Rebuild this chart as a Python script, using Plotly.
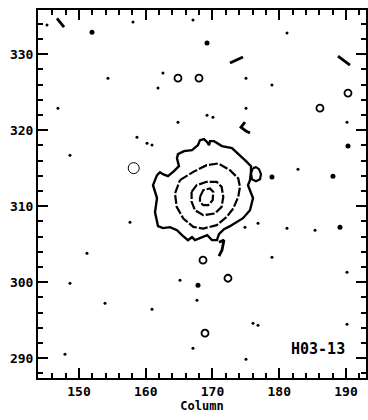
import plotly.graph_objects as go

# ---- data (column, row) ----
outer_col = [161.69, 162.14, 162.58, 163.33, 164.23, 164.98, 164.68, 164.83, 165.73, 166.93, 167.83, 168.13,
             168.73, 169.21, 169.48, 169.63, 170.23, 171.42, 172.92, 174.12, 175.02, 175.77, 175.77, 175.62,
             175.32, 176.07, 175.62, 174.57, 174.12, 172.62, 171.72, 170.97, 170.67, 169.93, 169.21, 168.13,
             167.38, 166.93, 166.33, 165.43, 164.68, 163.63, 162.58, 161.84, 161.69, 161.39, 161.69, 161.09]
outer_row = [314.08, 314.47, 314.21, 313.95, 314.61, 315.26, 316.31, 316.84, 317.24, 317.37, 318.03, 318.68,
             318.82, 318.42, 318.03, 318.55, 318.55, 317.90, 317.63, 316.71, 315.92, 315.26, 314.47, 313.42,
             312.76, 311.05, 309.47, 308.42, 308.16, 307.37, 306.97, 306.32, 305.53, 305.53, 306.18, 305.79,
             305.53, 305.92, 305.53, 306.18, 306.84, 307.24, 307.11, 307.37, 307.90, 309.21, 311.05, 312.76]

loop_col = [176.07, 175.77, 175.92, 176.52, 177.12, 177.27, 176.97, 176.52]
loop_row = [315.00, 314.34, 313.55, 313.29, 313.55, 314.21, 314.87, 315.13]

c2_col = [165.13, 167.12, 169.13, 170.87, 172.62, 173.86, 174.12, 173.86, 173.12, 172.13, 170.63, 168.62,
          167.12, 165.63, 164.64, 164.38]
c2_row = [313.42, 314.51, 315.39, 315.62, 314.74, 313.65, 312.54, 311.22, 309.70, 308.59, 307.50, 307.06,
          307.27, 308.38, 309.91, 311.67]

c3_col = [166.87, 167.63, 169.13, 170.62, 171.37, 171.62, 171.37, 170.37, 168.62, 167.38, 166.88]
c3_row = [311.88, 312.76, 313.20, 313.20, 312.54, 311.22, 309.91, 309.04, 308.82, 309.47, 310.57]

c4_col = [168.13, 168.62, 169.63, 170.12, 170.03, 169.37, 168.62, 168.13]
c4_row = [311.22, 312.11, 312.33, 311.88, 310.79, 310.13, 310.13, 310.57]

# small noise features
dot_col = [145.21, 158.09, 167.08, 181.16, 154.34, 162.58, 161.84, 175.02, 178.91, 146.85, 175.02, 164.83,
           169.18, 170.07, 190.15, 160.19, 160.94, 158.69, 148.65, 182.81, 157.64, 174.87, 176.82, 181.16,
           185.36, 151.20, 178.91, 190.15, 148.65, 165.13, 153.90, 160.94, 167.68, 176.07, 176.82, 190.15,
           167.08, 147.90, 175.02]
dot_row = [333.82, 334.21, 334.47, 332.76, 326.84, 327.50, 325.53, 326.84, 325.92, 322.89, 322.89, 321.05,
           321.97, 321.71, 321.05, 318.29, 318.03, 319.08, 316.71, 314.87, 307.89, 307.24, 307.76, 307.11,
           306.84, 303.82, 303.29, 301.32, 299.87, 300.26, 297.24, 296.45, 297.63, 294.61, 294.34, 294.47,
           291.32, 290.53, 289.87]

blob_col = [151.95, 169.18, 178.91, 188.05, 190.30, 189.10, 167.83]
blob_row = [332.89, 331.45, 313.82, 313.95, 317.90, 307.24, 299.60]

ring_col = [164.83, 167.98, 190.30, 186.10, 168.58, 172.32, 168.88]
ring_row = [326.84, 326.84, 324.87, 322.89, 302.90, 300.52, 293.29]

big_ring_col = [158.2]
big_ring_row = [315.0]

streaks = [
    ([146.70, 147.76], [334.70, 333.55]),
    ([172.62, 174.57], [328.82, 329.61]),
    ([188.80, 190.60], [329.74, 328.55]),
    ([174.87, 174.27, 175.02, 175.62], [321.05, 320.39, 319.87, 319.61]),
    ([170.97, 171.72, 171.42, 170.97], [305.26, 305.53, 304.21, 303.42]),
]

x_range = [143.86, 193.0]
y_range = [287.4, 335.8]
x_major = [150, 160, 170, 180, 190]
y_major = [290, 300, 310, 320, 330]
minor_step = 2
label_text = "H03-13"
label_pos = (185.8, 291.2)


def closed(a):
    return a + a[:1]


fig = go.Figure()

fig.add_trace(go.Scatter(x=closed(outer_col), y=closed(outer_row), mode="lines",
                         line=dict(color="black", width=2.4), hoverinfo="skip"))
fig.add_trace(go.Scatter(x=closed(loop_col), y=closed(loop_row), mode="lines",
                         line=dict(color="black", width=2.2), hoverinfo="skip"))
for cx, cy in [(c2_col, c2_row), (c3_col, c3_row), (c4_col, c4_row)]:
    fig.add_trace(go.Scatter(x=closed(cx), y=closed(cy), mode="lines",
                             line=dict(color="black", width=2.2, dash="9px,2px"),
                             hoverinfo="skip"))

fig.add_trace(go.Scatter(x=dot_col, y=dot_row, mode="markers",
                         marker=dict(color="black", size=3), hoverinfo="skip"))
fig.add_trace(go.Scatter(x=blob_col, y=blob_row, mode="markers",
                         marker=dict(color="black", size=5), hoverinfo="skip"))
fig.add_trace(go.Scatter(x=ring_col, y=ring_row, mode="markers",
                         marker=dict(color="black", size=7, symbol="circle-open",
                                     line=dict(width=1.8)), hoverinfo="skip"))
fig.add_trace(go.Scatter(x=big_ring_col, y=big_ring_row, mode="markers",
                         marker=dict(color="black", size=11, symbol="circle-open",
                                     line=dict(width=1.0)), hoverinfo="skip"))
for sx, sy in streaks:
    fig.add_trace(go.Scatter(x=sx, y=sy, mode="lines",
                             line=dict(color="black", width=2.8), hoverinfo="skip"))

fig.add_annotation(x=label_pos[0], y=label_pos[1], text="<b>" + label_text + "</b>",
                   showarrow=False, font=dict(family="DejaVu Sans Mono", size=15, color="black"))

tfont = dict(family="DejaVu Sans Mono", size=13, color="black", weight="bold")
axis_common = dict(
    showline=True, linecolor="black", linewidth=2, mirror="allticks",
    ticks="inside", ticklen=10, tickwidth=2.2, tickcolor="black",
    showgrid=False, zeroline=False, tickfont=tfont, automargin=False, layer="above traces",
    minor=dict(ticks="inside", ticklen=5, tickwidth=1.8, tickcolor="black", dtick=minor_step),
)

fig.update_layout(
    width=368, height=420, margin=dict(l=38, r=2, t=10, b=42, autoexpand=False),
    plot_bgcolor="white", paper_bgcolor="white", showlegend=False,
    xaxis=dict(range=x_range, tickvals=x_major,
               title=dict(text="Column", standoff=4,
                          font=dict(family="DejaVu Sans Mono", size=12, color="black", weight="bold")),
               **axis_common),
    yaxis=dict(range=y_range, tickvals=y_major, **axis_common),
)

fig.write_html("out.html")
